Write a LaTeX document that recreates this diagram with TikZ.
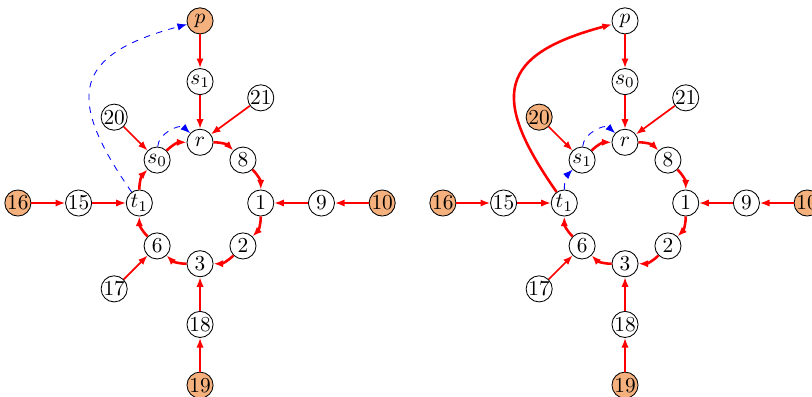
\documentclass[tikz,border=0pt]{standalone}
\usetikzlibrary{arrows.meta,positioning}
\definecolor{srcfill}{RGB}{245,177,125}
\tikzset{
  >={Latex[length=4.5pt,width=3.4pt]},
  vertex/.style={circle,draw,inner sep=0pt,minimum size=0.43cm}, % plain vertex
  source/.style={vertex,fill=srcfill}, % shaded vertex
  flow/.style={->,red,thick},
  ring/.style={flow,very thick,bend left=22.5}, % arcs round the cycle
  aug/.style={->,blue,dashed},
  loopback/.style={out=125,in=195,looseness=1.7}, % long way up to p
}

\begin{document}
\begin{tikzpicture}
   \useasboundingbox (-3.295,-3.18) rectangle (10.08,3.344);
   % left graph
   \node[source] (p)    at (90:3)  {$p$};
   \node[vertex] (s_1)  at (90:2)  {$s_1$};
   \node[vertex] (q_21) at (60:2)  {$21$};
   \node[vertex] (q_20) at (135:2) {$20$};
   \node[vertex] (r)    at (90:1)  {$r$};
   \node[vertex] (s_0)  at (135:1) {$s_0$};
   \node[vertex] (q_8)  at (45:1)  {$8$};
   \node[source] (q_16) at (180:3) {$16$};
   \node[vertex] (q_15) at (180:2) {$15$};
   \node[vertex] (t_1)  at (180:1) {$t_1$};
   \node[vertex] (q_1)  at (0:1)   {$1$};
   \node[vertex] (q_9)  at (0:2)   {$9$};
   \node[source] (q_10) at (0:3)   {$10$};
   \node[vertex] (q_6)  at (225:1) {$6$};
   \node[vertex] (q_2)  at (315:1) {$2$};
   \node[vertex] (q_3)  at (270:1) {$3$};
   \node[vertex] (q_17) at (225:2) {$17$};
   \node[vertex] (q_18) at (270:2) {$18$};
   \node[source] (q_19) at (270:3) {$19$};
   \path[flow]
    (p) edge (s_1)
    (s_1) edge (r)
    (q_21) edge (r)
    (q_20) edge (s_0)
    (q_16) edge (q_15)
    (q_15) edge (t_1)
    (q_10) edge (q_9)
    (q_9) edge (q_1)
    (q_19) edge (q_18)
    (q_18) edge (q_3)
    (q_17) edge (q_6);
   \path
    (t_1) edge[ring] (s_0)
    (s_0) edge[ring] (r)
    (r) edge[ring] (q_8)
    (q_8) edge[ring] (q_1)
    (q_1) edge[ring] (q_2)
    (q_2) edge[ring] (q_3)
    (q_3) edge[ring] (q_6)
    (q_6) edge[ring] (t_1);
   \path[aug]
    (s_0) edge[bend left=65] (r)
    (t_1) edge[loopback] (p);

   % right graph
   \begin{scope}[xshift=7cm]
   \node[vertex] (b_p)  at (90:3)  {$p$};
   \node[vertex] (b_s0) at (90:2)  {$s_0$};
   \node[vertex] (b_21) at (60:2)  {$21$};
   \node[source] (b_20) at (135:2) {$20$};
   \node[vertex] (b_r)  at (90:1)  {$r$};
   \node[vertex] (b_s1) at (135:1) {$s_1$};
   \node[vertex] (b_8)  at (45:1)  {$8$};
   \node[source] (b_16) at (180:3) {$16$};
   \node[vertex] (b_15) at (180:2) {$15$};
   \node[vertex] (b_t1) at (180:1) {$t_1$};
   \node[vertex] (b_1)  at (0:1)   {$1$};
   \node[vertex] (b_9)  at (0:2)   {$9$};
   \node[source] (b_10) at (0:3)   {$10$};
   \node[vertex] (b_6)  at (225:1) {$6$};
   \node[vertex] (b_2)  at (315:1) {$2$};
   \node[vertex] (b_3)  at (270:1) {$3$};
   \node[vertex] (b_17) at (225:2) {$17$};
   \node[vertex] (b_18) at (270:2) {$18$};
   \node[source] (b_19) at (270:3) {$19$};
   \end{scope}
   \path[flow]
    (b_p) edge (b_s0)
    (b_s0) edge (b_r)
    (b_21) edge (b_r)
    (b_20) edge (b_s1)
    (b_16) edge (b_15)
    (b_15) edge (b_t1)
    (b_10) edge (b_9)
    (b_9) edge (b_1)
    (b_19) edge (b_18)
    (b_18) edge (b_3)
    (b_17) edge (b_6);
   \path
    (b_s1) edge[ring] (b_r)
    (b_r) edge[ring] (b_8)
    (b_8) edge[ring] (b_1)
    (b_1) edge[ring] (b_2)
    (b_2) edge[ring] (b_3)
    (b_3) edge[ring] (b_6)
    (b_6) edge[ring] (b_t1)
    (b_t1) edge[flow,very thick,loopback] (b_p);
   \path[aug]
    (b_t1) edge[bend left=22.5] (b_s1)
    (b_s1) edge[bend left=65] (b_r);
\end{tikzpicture}
\end{document}
